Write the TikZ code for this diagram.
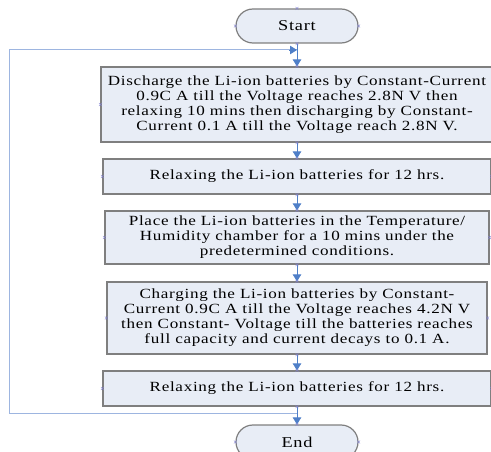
\documentclass[tikz,border=0pt]{standalone}
\usepackage{fontspec}
\setmainfont{Liberation Serif}[FakeStretch=1.22, LetterSpace=5]
\usetikzlibrary{arrows.meta,calc}
\definecolor{boxfill}{HTML}{E8EDF6}
\definecolor{boxline}{HTML}{7F7F7F}
\definecolor{flowblue}{HTML}{4F7FC8}
\definecolor{loopblue}{HTML}{9DB5E0}
\definecolor{cptcol}{HTML}{8080D0}
\tikzset{
  stepbox/.style={draw=boxline, line width=1.2pt, fill=boxfill, inner sep=0pt,
    align=center, font=\fontsize{14}{15}\selectfont},
  terminal/.style={draw=boxline, line width=1.2pt, fill=boxfill, inner sep=0pt,
    minimum width=122pt, minimum height=34pt, rounded corners=17pt,
    font=\fontsize{15}{16}\selectfont},
  flow/.style={draw=flowblue, line width=0.8pt, -{Triangle[width=8.5pt,length=7pt]}},
  back/.style={draw=loopblue, line width=1pt},
  cpt/.style={cptcol, line width=0.4pt}
}
% small cross marking a connection point
\newcommand{\cmark}[1]{\draw[cpt] ($(#1)+(-1.5,-1.5)$) -- ($(#1)+(1.5,1.5)$) ($(#1)+(-1.5,1.5)$) -- ($(#1)+(1.5,-1.5)$);}
\begin{document}
\begin{tikzpicture}[x=1pt, y=-1pt]
\useasboundingbox (0,0) rectangle (491,452);
\begin{scope}
\clip (0,0) rectangle (491,452);
\node[terminal] (start) at (297,26) {Start};
\node[stepbox, minimum width=392pt, minimum height=75pt] (b1) at (297,104.5)
  {Discharge the Li-ion batteries by Constant-Current\\
   0.9C A till the Voltage reaches 2.8N V then\\
   relaxing 10 mins then discharging by Constant-\\
   Current 0.1 A till the Voltage reach 2.8N V.};
\node[stepbox, minimum width=388pt, minimum height=35pt] (b2) at (297,176.5)
  {Relaxing the Li-ion batteries for 12 hrs.};
\node[stepbox, minimum width=384pt, minimum height=53pt] (b3) at (297,237.5)
  {Place the Li-ion batteries in the Temperature/\\
   Humidity chamber for a 10 mins under the\\
   predetermined conditions.};
\node[stepbox, minimum width=380pt, minimum height=72pt] (b4) at (297,318)
  {Charging the Li-ion batteries by Constant-\\
   Current 0.9C A till the Voltage reaches 4.2N V\\
   then Constant- Voltage till the batteries reaches\\
   full capacity and current decays to 0.1 A.};
\node[stepbox, minimum width=388pt, minimum height=35pt] (b5) at (297,388.5)
  {Relaxing the Li-ion batteries for 12 hrs.};
\node[terminal] (end) at (297,442) {End};

% junctions of the repeat loop on the main line
\coordinate (jtop) at (297,50);
\coordinate (jbot) at (297,413);

% main flow
\draw[flow] (start) -- (b1);
\draw[flow] (b1) -- (b2);
\draw[flow] (b2) -- (b3);
\draw[flow] (b3) -- (b4);
\draw[flow] (b4) -- (b5);
\draw[flow] (b5) -- (end);

% repeat loop back to the top
\draw[back] (jbot) -- (9,413) -- (9,50) -- (jtop);
\draw[flow] ($(jtop)+(-8,0)$) -- (jtop);

% connection points
\foreach \n in {start,b1,b2,b3,b4,b5,end}{
  \cmark{\n.west} \cmark{\n.east} \cmark{\n.north} \cmark{\n.south}
}
\end{scope}
\end{tikzpicture}
\end{document}
